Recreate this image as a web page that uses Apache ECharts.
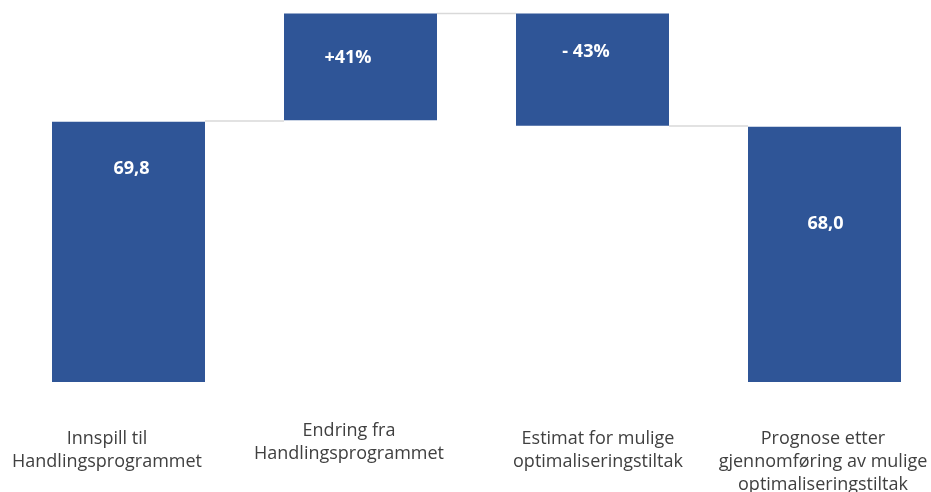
<!DOCTYPE html>
<html><head><meta charset="utf-8">
<script src="https://cdn.jsdelivr.net/npm/echarts@6/dist/echarts.min.js"></script>
<style>html,body{margin:0;padding:0;background:#fff}#c{width:931px;height:492px}</style>
</head><body><div id="c"></div>
<script>
// ---- data ----
const categories = ['Innspill til\nHandlingsprogrammet', 'Endring fra\nHandlingsprogrammet', 'Estimat for mulige\noptimaliseringstiltak', 'Prognose etter\ngjennomføring av mulige\noptimaliseringstiltak'];
const barBase = [0, 70.2, 68.7, 0];
const barValue = [69.8, 28.6, 30.1, 68.4];
const barLabels = ['69,8', '+41%', '- 43%', '68,0'];
const connectorLevels = [70.0, 98.8, 68.6];

// ---- layout / style (not data) ----
const BAR_W = 153;
const labelTop = [47, 44, 38, 97];
const labelDx = [3, -12.5, -6.5, 1];
const catPadding = [[8, 43, 0, 0], [0, 23, 0, 0], [8, 0, 0, 11], [8, 3, 0, 0]];

const chart = echarts.init(document.getElementById('c'));
chart.setOption({
  animation: false,
  backgroundColor: '#ffffff',
  grid: { left: 12.5, width: 928, top: 9, bottom: 110, containLabel: false, outerBoundsMode: 'none' },
  xAxis: {
    type: 'category',
    data: categories.map((c, i) => ({ value: c, textStyle: { padding: catPadding[i] } })),
    axisLine: { show: false }, axisTick: { show: false }, splitLine: { show: false },
    axisLabel: { interval: 0, margin: 37, fontFamily: 'Open Sans', fontSize: 18, lineHeight: 23, color: '#404040', align: 'center', hideOverlap: false }
  },
  yAxis: { type: 'value', min: 0, max: 100, show: false, splitLine: { show: false } },
  series: [
    {
      type: 'custom', z: 1,
      encode: { x: [0, 1], y: 2 },
      data: connectorLevels.map((v, i) => [i, i + 1, v]),
      renderItem: function (params, api) {
        const p0 = api.coord([api.value(0), api.value(2)]);
        const p1 = api.coord([api.value(1), api.value(2)]);
        return { type: 'line', shape: { x1: p0[0] + BAR_W / 2, y1: p0[1], x2: p1[0] - BAR_W / 2, y2: p1[1] }, style: { stroke: '#d9d9d9', lineWidth: 1.5 } };
      }
    },
    {
      type: 'bar', stack: 'w', z: 2, barWidth: BAR_W,
      itemStyle: { color: 'rgba(0,0,0,0)' },
      silent: true,
      data: barBase
    },
    {
      type: 'bar', stack: 'w', z: 2, barWidth: BAR_W,
      itemStyle: { color: '#2f5597' },
      data: barValue.map((v, i) => ({
        value: v,
        label: {
          show: true, position: ['50%', labelTop[i]], offset: [labelDx[i], 0],
          align: 'center', verticalAlign: 'middle',
          formatter: barLabels[i], color: '#ffffff', fontFamily: 'Open Sans', fontWeight: 'bold', fontSize: 18
        }
      }))
    }
  ]
});
</script>
</body></html>
